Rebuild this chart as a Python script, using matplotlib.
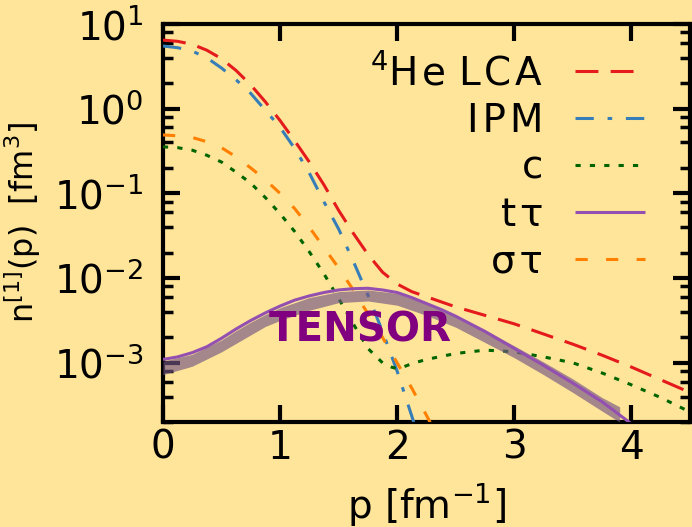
import numpy as np
import matplotlib
matplotlib.use('Agg')
import matplotlib.pyplot as plt
from matplotlib.ticker import LogLocator, MultipleLocator, NullLocator

# momentum grid and log10 of the momentum distributions
p_lca = [0, 0.125, 0.25, 0.375, 0.5, 0.625, 0.75, 0.875, 1.0, 1.125, 1.25, 1.375,
         1.5, 1.625, 1.75, 1.875, 2.0, 2.125, 2.25, 2.5, 2.75, 3.0, 3.25, 3.5,
         3.75, 4.0, 4.25, 4.5]
lca_log10 = [0.81, 0.795, 0.76, 0.69, 0.59, 0.45, 0.28, 0.08, -0.14, -0.38, -0.63,
             -0.9, -1.2, -1.47, -1.72, -1.93, -2.07, -2.16, -2.22, -2.34, -2.44,
             -2.54, -2.66, -2.78, -2.91, -3.05, -3.2, -3.35]

p_ipm = [0, 0.125, 0.25, 0.375, 0.5, 0.625, 0.75, 0.875, 1.0, 1.125, 1.25, 1.375,
         1.5, 1.625, 1.75, 1.875, 2.0, 2.125, 2.2]
ipm_log10 = [0.74, 0.72, 0.68, 0.6, 0.48, 0.34, 0.18, -0.02, -0.22, -0.47, -0.76,
             -1.1, -1.42, -1.8, -2.2, -2.63, -3.1, -3.63, -3.95]

p_c = [0, 0.125, 0.25, 0.375, 0.5, 0.625, 0.75, 0.875, 1.0, 1.125, 1.25, 1.375,
       1.5, 1.625, 1.75, 1.875, 1.95, 2.0, 2.05, 2.125, 2.25, 2.5, 2.75, 3.0,
       3.25, 3.5, 3.75, 4.0, 4.25, 4.5]
c_log10 = [-0.45, -0.46, -0.49, -0.55, -0.63, -0.75, -0.88, -1.05, -1.24, -1.45,
           -1.69, -1.95, -2.24, -2.54, -2.83, -3.0, -3.05, -3.07, -3.05, -3.01,
           -2.96, -2.89, -2.85, -2.87, -2.93, -3.0, -3.12, -3.26, -3.41, -3.58]

p_ttau = [0, 0.125, 0.25, 0.375, 0.5, 0.625, 0.75, 0.875, 1.0, 1.125, 1.25, 1.375,
          1.5, 1.625, 1.75, 1.875, 2.0, 2.125, 2.25, 2.375, 2.5, 2.75, 3.0,
          3.25, 3.5, 3.75, 4.0]
ttau_log10 = [-2.96, -2.93, -2.88, -2.81, -2.71, -2.6, -2.5, -2.41, -2.33, -2.26,
              -2.21, -2.17, -2.14, -2.125, -2.12, -2.14, -2.17, -2.23, -2.3, -2.37,
              -2.45, -2.63, -2.83, -3.03, -3.24, -3.46, -3.72]

p_stau = [0, 0.125, 0.25, 0.375, 0.5, 0.625, 0.75, 0.875, 1.0, 1.125, 1.25, 1.375,
          1.5, 1.625, 1.75, 1.875, 2.0, 2.125, 2.25, 2.3]
stau_log10 = [-0.31, -0.32, -0.34, -0.39, -0.46, -0.57, -0.7, -0.84, -1.0, -1.18,
              -1.4, -1.64, -1.88, -2.14, -2.42, -2.7, -3.0, -3.3, -3.62, -3.75]

# shaded tensor band
p_band = [0, 0.25, 0.5, 0.625, 0.75, 0.875, 1.0, 1.25, 1.5, 1.75, 2.0, 2.25, 2.5,
          2.75, 3.0, 3.25, 3.5, 3.75, 3.9]
band_hi_log10 = [-2.98, -2.9, -2.73, -2.62, -2.52, -2.43, -2.35, -2.23, -2.16, -2.14,
                 -2.18, -2.3, -2.44, -2.61, -2.8, -2.99, -3.19, -3.41, -3.52]
band_lo_log10 = [-3.14, -3.04, -2.87, -2.77, -2.67, -2.57, -2.5, -2.38, -2.29, -2.27,
                 -2.32, -2.44, -2.58, -2.76, -2.94, -3.14, -3.35, -3.57, -3.7]

bg = '#FFE599'
fs = 28
lw = 2.2

def n(vals):
    return 10.0 ** np.array(vals)

fig = plt.figure(figsize=(6.92, 5.27), dpi=100, facecolor=bg)
ax = fig.add_axes([0.2355, 0.1992, 0.7615, 0.7553])
ax.set_facecolor(bg)

ax.plot(p_lca, n(lca_log10), color='#E41A1C', lw=lw, dashes=(7.5, 4),
        label='$^4$H\u200ae L\u200aC\u200aA', zorder=3)
ax.plot(p_ipm, n(ipm_log10), color='#377EB8', lw=lw, dashes=(6, 4.5, 1.5, 4.5),
        label='I\u200aP\u200aM', zorder=3)
ax.plot(p_c, n(c_log10), color='#006400', lw=lw, dashes=(1.7, 3),
        label='c', zorder=3)
ax.plot(p_ttau, n(ttau_log10), color='#9350B0', lw=lw, solid_capstyle='butt',
        label='t\u200a\u03c4', zorder=5)
ax.plot(p_stau, n(stau_log10), color='#FF7F00', lw=lw, dashes=(4, 6),
        label='\u03c3\u200a\u03c4', zorder=3)

ax.fill_between(p_band, n(band_lo_log10), n(band_hi_log10), color='#735582',
                alpha=0.65, lw=0, zorder=4)

ax.text(1.685, 2.4e-3, 'TENSOR', color='#800080', fontsize=29, fontweight='bold',
        ha='center', va='center', zorder=6)

ax.set_yscale('log')
ax.set_xlim(0, 4.5)
ax.set_ylim(2e-4, 10)
ax.xaxis.set_major_locator(MultipleLocator(1))
ax.xaxis.set_minor_locator(NullLocator())
ax.yaxis.set_major_locator(LogLocator(base=10, numticks=20))
ax.yaxis.set_minor_locator(LogLocator(base=10, subs=(2, 4, 6, 8), numticks=20))

for s in ax.spines.values():
    s.set_linewidth(3)
ax.tick_params(which='both', direction='in', top=True, right=True, labelsize=fs)
ax.tick_params(which='major', length=12, width=3)
ax.tick_params(which='minor', length=7, width=2.5)
ax.tick_params(axis='x', pad=5)
ax.tick_params(axis='y', pad=14)

ax.set_xlabel('p [fm$^{-1}$]', fontsize=fs, labelpad=10)
ax.set_ylabel('n$^{[1]}$(p)  [fm$^3$]', fontsize=23, labelpad=8)

leg = ax.legend(loc='upper right', bbox_to_anchor=(0.9146, 0.925), frameon=False,
                markerfirst=False, fontsize=fs, handlelength=1.8,
                handletextpad=0.82, labelspacing=0.23, borderpad=0,
                borderaxespad=0)

fig.savefig('out.png', dpi=100, facecolor=bg)
